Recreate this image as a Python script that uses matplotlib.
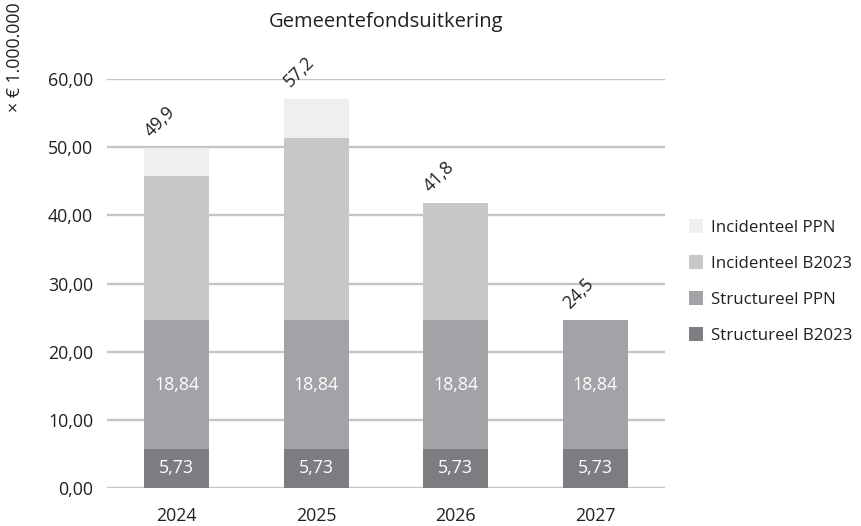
#!/usr/bin/env python3
# Gemeentefondsuitkering - stacked bar chart (x EUR 1.000.000)

import numpy as np
import matplotlib
matplotlib.use("Agg")
import matplotlib.pyplot as plt

# ------------------------------------------------------------
# Data
# ------------------------------------------------------------
years = ["2024", "2025", "2026", "2027"]
structureel_b2023 = [5.73, 5.73, 5.73, 5.73]
structureel_ppn = [18.84, 18.84, 18.84, 18.84]
incidenteel_b2023 = [21.2, 26.8, 17.2, 0.0]
incidenteel_ppn = [4.1, 5.8, 0.0, 0.0]
total_labels = ["49,9", "57,2", "41,8", "24,5"]
yticks = [0, 10, 20, 30, 40, 50, 60]

series = [
    ("Structureel B2023", structureel_b2023, "#7c7d80"),
    ("Structureel PPN", structureel_ppn, "#a2a3a6"),
    ("Incidenteel B2023", incidenteel_b2023, "#c6c7c9"),
    ("Incidenteel PPN", incidenteel_ppn, "#efefef"),
]

plt.rcParams["font.family"] = ["Open Sans", "DejaVu Sans"]
text_col = "#231f20"
fs = 12.8

fig = plt.figure(figsize=(8.61, 5.26), dpi=100)
ax = fig.add_axes([0.1243, 0.0728, 0.6481, 0.7764])

x = np.arange(len(years))
bottom = np.zeros(len(years))
handles = []
for name, vals, col in series:
    vals = np.array(vals)
    h = ax.bar(x, vals, width=0.466, bottom=bottom, color=col, label=name, zorder=3)
    handles.append(h)
    bottom = bottom + vals

# white value labels inside the structureel segments
for i in range(len(years)):
    ax.text(x[i], structureel_b2023[i] / 2, f"{structureel_b2023[i]:.2f}".replace(".", ","),
            ha="center", va="center", color="white", fontsize=fs, zorder=4)
    ax.text(x[i], structureel_b2023[i] + structureel_ppn[i] / 2,
            f"{structureel_ppn[i]:.2f}".replace(".", ","),
            ha="center", va="center", color="white", fontsize=fs, zorder=4)

# rotated totals above bars
for i in range(len(years)):
    ax.annotate(total_labels[i], (x[i], bottom[i]), xytext=(-12, 19.5),
                textcoords="offset points", ha="center", va="center",
                rotation=45, fontsize=fs, color=text_col, annotation_clip=False)

ax.set_xlim(-0.5, len(years) - 0.5)
ax.set_ylim(0, 60)
ax.set_yticks(yticks)
ax.set_yticklabels([f"{v:.2f}".replace(".", ",") for v in yticks])
ax.set_xticks(x)
ax.set_xticklabels(years)
ax.tick_params(axis="both", length=0, labelsize=fs, colors=text_col)
ax.tick_params(axis="x", pad=14)
ax.tick_params(axis="y", pad=10)
for s in ax.spines.values():
    s.set_visible(False)
ax.yaxis.grid(True, color="#c4c5c7", linewidth=1.7, zorder=0)
ax.set_axisbelow(True)

ax.set_title("Gemeentefondsuitkering", fontsize=14.5, color=text_col, pad=38)

fig.text(0.017, 0.995, "× € 1.000.000", rotation=90, ha="center", va="top",
         fontsize=fs, color=text_col)

leg = ax.legend(handles=handles[::-1], loc="center left", bbox_to_anchor=(1.03, 0.505),
                frameon=False, fontsize=12.2, handlelength=0.85, handleheight=0.85,
                handletextpad=0.45, labelspacing=1.15, borderaxespad=0)
for t in leg.get_texts():
    t.set_color(text_col)

fig.savefig("out.png", dpi=100)
